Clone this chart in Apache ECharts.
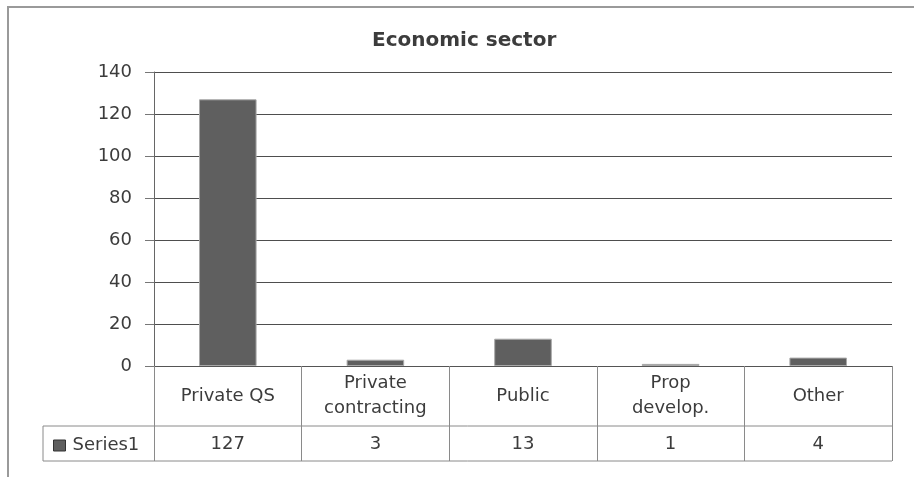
<!DOCTYPE html>
<html>
<head>
<meta charset="utf-8">
<script src="https://cdn.jsdelivr.net/npm/echarts@6/dist/echarts.min.js"></script>
<style>
  html, body { margin: 0; padding: 0; background: #fff; }
  #chart { width: 914px; height: 477px; }
</style>
</head>
<body>
<div id="chart"></div>
<script>
// Data
const categories = ['Private QS', 'Private\ncontracting', 'Public', 'Prop\ndevelop.', 'Other'];
const seriesName = 'Series1';
const values = [127, 3, 13, 1, 4];
const yTicks = { min: 0, max: 140, interval: 20 };

// Layout
const FONT = 'DejaVu Sans';
const FS = 18;
const TEXT = '#3c3c3c';
const LINE = '#8a8a8a';
const GRID = { left: 154, right: 22, top: 72, bottom: 111 };
const W = 914, H = 477;
const axisY = H - GRID.bottom;      // y of the category axis
const row1 = 60;                    // category-name row height
const row2 = 35;                    // value row height
const tableLeft = 43;               // left edge of the series-name cell

const chart = echarts.init(document.getElementById('chart'), null, { renderer: 'canvas' });

const option = {
  animation: false,
  backgroundColor: '#fff',
  title: {
    text: 'Economic sector',
    left: 372,
    top: 31,
    padding: 0,
    textStyle: { fontFamily: FONT, fontSize: 20, fontWeight: 'bold', color: TEXT }
  },
  legend: {
    data: [seriesName],
    left: 48,
    top: axisY + row1 + row2 / 2 - 12,
    itemWidth: 12,
    itemHeight: 11,
    itemGap: 0,
    icon: 'rect',
    textStyle: { fontFamily: FONT, fontSize: FS, color: TEXT, padding: [0, 0, 0, 2] },
    itemStyle: { borderColor: '#333', borderWidth: 1 }
  },
  grid: { left: GRID.left, right: GRID.right, top: GRID.top, bottom: GRID.bottom },
  xAxis: [
    {
      type: 'category',
      data: categories,
      position: 'bottom',
      axisLine: { show: true, lineStyle: { color: '#555', width: 1 } },
      axisTick: {
        show: true,
        alignWithLabel: false,
        length: row1 + row2,
        lineStyle: { color: LINE, width: 1 }
      },
      axisLabel: {
        interval: 0,
        margin: row1 / 2,
        verticalAlign: 'middle',
        align: 'center',
        lineHeight: 25,
        fontFamily: FONT,
        fontSize: FS,
        color: TEXT
      },
      splitLine: { show: false }
    },
    {
      type: 'category',
      data: categories,
      position: 'bottom',
      axisLine: { show: false },
      axisTick: { show: false },
      axisLabel: {
        interval: 0,
        margin: row1 + row2 / 2 + 1,
        verticalAlign: 'middle',
        align: 'center',
        fontFamily: FONT,
        fontSize: FS,
        color: TEXT,
        formatter: (v, i) => String(values[i])
      },
      splitLine: { show: false }
    }
  ],
  yAxis: {
    type: 'value',
    min: yTicks.min,
    max: yTicks.max,
    interval: yTicks.interval,
    axisLine: { show: true, lineStyle: { color: '#666', width: 1 } },
    axisTick: { show: true, length: 9, lineStyle: { color: '#777' } },
    axisLabel: { margin: 22, fontFamily: FONT, fontSize: FS, color: TEXT },
    splitLine: { show: true, lineStyle: { color: '#4e4e4e', width: 1 } }
  },
  series: [
    {
      name: seriesName,
      type: 'bar',
      xAxisIndex: 0,
      data: values,
      barWidth: '39%',
      itemStyle: { color: '#5f5f5f', borderColor: '#a8a8a8', borderWidth: 1 }
    }
  ],
  graphic: [
    // outer chart-area frame (runs off the right and bottom edges)
    {
      type: 'rect',
      shape: { x: 8, y: 7, width: W + 20, height: H + 20 },
      style: { fill: null, stroke: '#9a9a9a', lineWidth: 2 },
      silent: true
    },
    // data table: horizontal rules and the series-name cell
    {
      type: 'line',
      shape: { x1: tableLeft, y1: axisY + row1, x2: W - GRID.right, y2: axisY + row1 },
      style: { stroke: LINE, lineWidth: 1 }
    },
    {
      type: 'line',
      shape: { x1: tableLeft, y1: axisY + row1 + row2, x2: W - GRID.right, y2: axisY + row1 + row2 },
      style: { stroke: LINE, lineWidth: 1 }
    },
    {
      type: 'line',
      shape: { x1: tableLeft, y1: axisY + row1, x2: tableLeft, y2: axisY + row1 + row2 },
      style: { stroke: LINE, lineWidth: 1 }
    }
  ]
};

chart.setOption(option);
</script>
</body>
</html>
